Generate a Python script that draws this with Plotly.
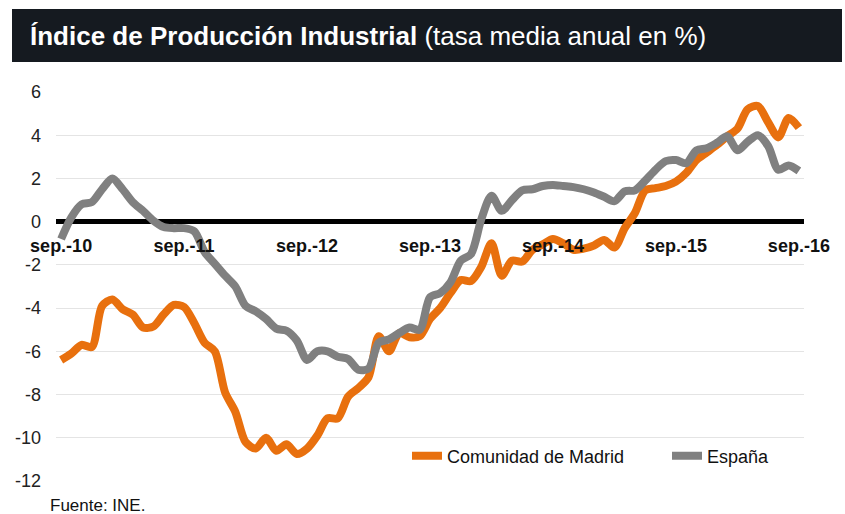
import plotly.graph_objects as go

W, H = 845, 514
# plot area in window pixels: x 56..804, y 92..481
ML, MR, MT, MB = 56, W - 804, 92, H - 481

def px_x(p):
    return (p - ML) / (W - ML - MR)

def px_y(p):
    return (H - MB - p) / (H - MT - MB)

months = list(range(73))
tick_pos = [0, 12, 24, 36, 48, 60, 72]
tick_labels = ["sep.-10", "sep.-11", "sep.-12", "sep.-13", "sep.-14", "sep.-15", "sep.-16"]

madrid = [-6.4, -6.1, -5.7, -5.8, -3.9, -3.6, -4.05, -4.3, -4.9, -4.85, -4.3, -3.85,
          -3.95, -4.7, -5.6, -6.0, -7.9, -8.8, -10.2, -10.5, -10.0, -10.6, -10.3, -10.75,
          -10.5, -9.9, -9.1, -9.1, -8.1, -7.7, -7.2, -5.3, -6.0, -5.15, -5.35, -5.3,
          -4.5, -4.0, -3.3, -2.7, -2.75, -2.1, -1.0, -2.5, -1.8, -1.85, -1.3, -1.05,
          -0.8, -1.0, -1.3, -1.25, -1.1, -0.85, -1.2, -0.3, 0.4, 1.45, 1.55, 1.65,
          1.85, 2.25, 2.85, 3.2, 3.55, 3.95, 4.3, 5.2, 5.35, 4.6, 3.9, 4.8, 4.35]

espana = [-0.8, 0.2, 0.8, 0.9, 1.5, 2.0, 1.5, 0.9, 0.5, 0.05, -0.25, -0.3,
          -0.3, -0.45, -1.4, -1.95, -2.5, -3.0, -3.9, -4.15, -4.5, -4.95, -5.05, -5.5,
          -6.4, -6.0, -6.0, -6.25, -6.35, -6.85, -6.8, -5.6, -5.45, -5.15, -4.9, -5.0,
          -3.5, -3.3, -2.8, -1.8, -1.5, 0.1, 1.2, 0.5, 1.0, 1.45, 1.5, 1.65,
          1.7, 1.65, 1.6, 1.5, 1.35, 1.15, 0.95, 1.4, 1.45, 1.9, 2.4, 2.8,
          2.85, 2.7, 3.3, 3.4, 3.65, 3.95, 3.3, 3.7, 4.0, 3.5, 2.4, 2.6, 2.35]

y_ticks = [-12, -10, -8, -6, -4, -2, 0, 2, 4, 6]
y_labels = [str(v) for v in y_ticks]

FONT = "Liberation Sans, Arial, Helvetica, sans-serif"
ORANGE = "#E8700E"
GRAY = "#808080"

fig = go.Figure()
fig.add_trace(go.Scatter(x=months, y=madrid, mode="lines", name="Comunidad de Madrid",
                         legend="legend",
                         line=dict(color=ORANGE, width=8, shape="spline", smoothing=0.8)))
fig.add_trace(go.Scatter(x=months, y=espana, mode="lines", name="España",
                         legend="legend2",
                         line=dict(color=GRAY, width=8, shape="spline", smoothing=0.8)))

leg_common = dict(orientation="h", xanchor="left", yanchor="middle",
                  font=dict(size=18, color="#111111"), bgcolor="rgba(0,0,0,0)")

fig.update_layout(
    width=W, height=H,
    margin=dict(l=ML, r=MR, t=MT, b=MB),
    paper_bgcolor="white", plot_bgcolor="white",
    font=dict(family=FONT, color="#222222"),
    showlegend=True,
    legend=dict(x=px_x(407), y=px_y(456), **leg_common),
    legend2=dict(x=px_x(667), y=px_y(456), **leg_common),
    xaxis=dict(range=[-0.5, 72.5], tickvals=tick_pos,
               ticktext=["<b>" + t + "</b>" for t in tick_labels],
               anchor="free", position=12 / 18, showgrid=False, showline=False,
               zeroline=False, ticks="", tickfont=dict(size=18, color="#111111", family=FONT),
               ticklabelstandoff=11),
    yaxis=dict(range=[-12, 6], tickvals=y_ticks, ticktext=y_labels, showgrid=True,
               gridcolor="#e4e4e4", gridwidth=1, zeroline=True, zerolinecolor="black",
               zerolinewidth=5, showline=False, ticks="", tickfont=dict(size=18, color="#222222"),
               ticklabelstandoff=14),
)

# title bar
fig.add_shape(type="rect", xref="paper", yref="paper",
              x0=px_x(12), x1=px_x(842), y0=px_y(62), y1=px_y(9),
              fillcolor="#151a20", line=dict(width=0), layer="above")
fig.add_annotation(xref="paper", yref="paper", x=px_x(28), y=px_y(36),
                   xanchor="left", yanchor="middle", showarrow=False,
                   text="<b>Índice de Producción Industrial</b> (tasa media anual en %)",
                   font=dict(size=26, color="white", family=FONT))
fig.add_annotation(xref="paper", yref="paper", x=px_x(48), y=px_y(505),
                   xanchor="left", yanchor="middle", showarrow=False,
                   text="Fuente: INE.", font=dict(size=17, color="#111111", family=FONT))

fig.write_html("out.html",
               config={"displayModeBar": False},
               post_script="document.body.style.margin='0';document.body.style.overflow='hidden';")
